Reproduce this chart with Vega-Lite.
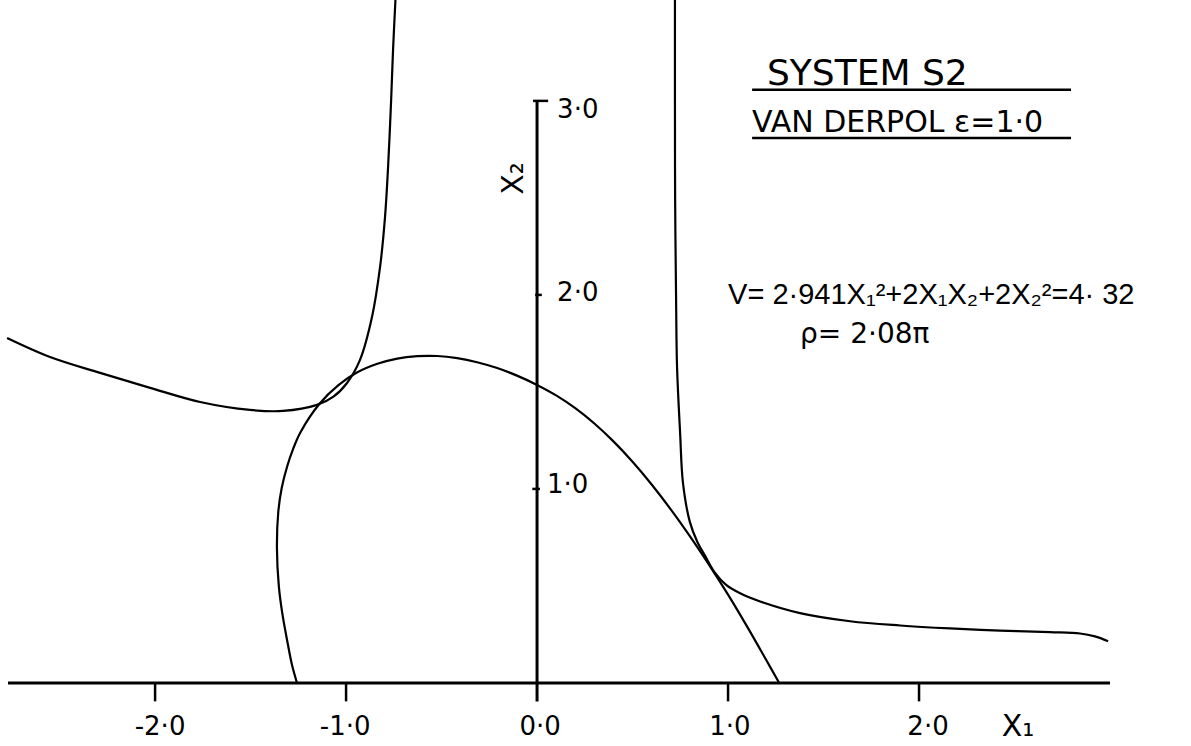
{
  "$schema": "https://vega.github.io/schema/vega-lite/v6.json",
  "width": 1191,
  "height": 746,
  "autosize": {"type": "fit", "contains": "padding"},
  "padding": 0,
  "background": "white",
  "config": {"view": {"stroke": null}, "text": {"font": "DejaVu Sans", "color": "black"}},
  "datasets": {
    "curves": [
      {"curve": "ellipse", "o": 1, "x": -1.257, "y": 0},
      {"curve": "ellipse", "o": 2, "x": -1.283, "y": 0.092},
      {"curve": "ellipse", "o": 3, "x": -1.306, "y": 0.206},
      {"curve": "ellipse", "o": 4, "x": -1.333, "y": 0.353},
      {"curve": "ellipse", "o": 5, "x": -1.352, "y": 0.498},
      {"curve": "ellipse", "o": 6, "x": -1.362, "y": 0.695},
      {"curve": "ellipse", "o": 7, "x": -1.355, "y": 0.881},
      {"curve": "ellipse", "o": 8, "x": -1.337, "y": 1.005},
      {"curve": "ellipse", "o": 9, "x": -1.307, "y": 1.121},
      {"curve": "ellipse", "o": 10, "x": -1.278, "y": 1.204},
      {"curve": "ellipse", "o": 11, "x": -1.240, "y": 1.290},
      {"curve": "ellipse", "o": 12, "x": -1.140, "y": 1.438},
      {"curve": "ellipse", "o": 13, "x": -1.040, "y": 1.535},
      {"curve": "ellipse", "o": 14, "x": -0.941, "y": 1.601},
      {"curve": "ellipse", "o": 15, "x": -0.836, "y": 1.645},
      {"curve": "ellipse", "o": 16, "x": -0.732, "y": 1.672},
      {"curve": "ellipse", "o": 17, "x": -0.627, "y": 1.684},
      {"curve": "ellipse", "o": 18, "x": -0.523, "y": 1.685},
      {"curve": "ellipse", "o": 19, "x": -0.418, "y": 1.674},
      {"curve": "ellipse", "o": 20, "x": -0.314, "y": 1.653},
      {"curve": "ellipse", "o": 21, "x": -0.209, "y": 1.623},
      {"curve": "ellipse", "o": 22, "x": -0.105, "y": 1.584},
      {"curve": "ellipse", "o": 23, "x": 0, "y": 1.536},
      {"curve": "ellipse", "o": 24, "x": 0.1, "y": 1.482},
      {"curve": "ellipse", "o": 25, "x": 0.2, "y": 1.416},
      {"curve": "ellipse", "o": 26, "x": 0.3, "y": 1.337},
      {"curve": "ellipse", "o": 27, "x": 0.4, "y": 1.245},
      {"curve": "ellipse", "o": 28, "x": 0.5, "y": 1.140},
      {"curve": "ellipse", "o": 29, "x": 0.6, "y": 1.023},
      {"curve": "ellipse", "o": 30, "x": 0.7, "y": 0.895},
      {"curve": "ellipse", "o": 31, "x": 0.8, "y": 0.757},
      {"curve": "ellipse", "o": 32, "x": 0.9, "y": 0.610},
      {"curve": "ellipse", "o": 33, "x": 1.0, "y": 0.455},
      {"curve": "ellipse", "o": 34, "x": 1.1, "y": 0.290},
      {"curve": "ellipse", "o": 35, "x": 1.2, "y": 0.118},
      {"curve": "ellipse", "o": 36, "x": 1.268, "y": 0},
      {"curve": "left", "o": 1, "x": -2.775, "y": 1.778},
      {"curve": "left", "o": 2, "x": -2.55, "y": 1.680},
      {"curve": "left", "o": 3, "x": -2.288, "y": 1.598},
      {"curve": "left", "o": 4, "x": -2.026, "y": 1.521},
      {"curve": "left", "o": 5, "x": -1.764, "y": 1.448},
      {"curve": "left", "o": 6, "x": -1.503, "y": 1.407},
      {"curve": "left", "o": 7, "x": -1.330, "y": 1.402},
      {"curve": "left", "o": 8, "x": -1.152, "y": 1.433},
      {"curve": "left", "o": 9, "x": -1.068, "y": 1.474},
      {"curve": "left", "o": 10, "x": -0.995, "y": 1.546},
      {"curve": "left", "o": 11, "x": -0.927, "y": 1.665},
      {"curve": "left", "o": 12, "x": -0.864, "y": 1.887},
      {"curve": "left", "o": 13, "x": -0.822, "y": 2.144},
      {"curve": "left", "o": 14, "x": -0.796, "y": 2.402},
      {"curve": "left", "o": 15, "x": -0.780, "y": 2.660},
      {"curve": "left", "o": 16, "x": -0.764, "y": 3.005},
      {"curve": "left", "o": 17, "x": -0.754, "y": 3.263},
      {"curve": "left", "o": 18, "x": -0.740, "y": 3.55},
      {"curve": "right", "o": 1, "x": 0.722, "y": 3.55},
      {"curve": "right", "o": 2, "x": 0.722, "y": 3.005},
      {"curve": "right", "o": 3, "x": 0.723, "y": 2.49},
      {"curve": "right", "o": 4, "x": 0.728, "y": 1.974},
      {"curve": "right", "o": 5, "x": 0.733, "y": 1.629},
      {"curve": "right", "o": 6, "x": 0.749, "y": 1.289},
      {"curve": "right", "o": 7, "x": 0.764, "y": 1.031},
      {"curve": "right", "o": 8, "x": 0.800, "y": 0.830},
      {"curve": "right", "o": 9, "x": 0.840, "y": 0.725},
      {"curve": "right", "o": 10, "x": 0.880, "y": 0.655},
      {"curve": "right", "o": 11, "x": 0.930, "y": 0.570},
      {"curve": "right", "o": 12, "x": 0.990, "y": 0.505},
      {"curve": "right", "o": 13, "x": 1.063, "y": 0.462},
      {"curve": "right", "o": 14, "x": 1.168, "y": 0.420},
      {"curve": "right", "o": 15, "x": 1.377, "y": 0.360},
      {"curve": "right", "o": 16, "x": 1.639, "y": 0.318},
      {"curve": "right", "o": 17, "x": 1.901, "y": 0.296},
      {"curve": "right", "o": 18, "x": 2.162, "y": 0.281},
      {"curve": "right", "o": 19, "x": 2.424, "y": 0.270},
      {"curve": "right", "o": 20, "x": 2.686, "y": 0.262},
      {"curve": "right", "o": 21, "x": 2.843, "y": 0.255},
      {"curve": "right", "o": 22, "x": 2.921, "y": 0.240},
      {"curve": "right", "o": 23, "x": 2.990, "y": 0.215}
    ],
    "segments": [
      {"kind": "axis", "x": -2.77, "xe": 3.0, "y": 0, "ye": 0},
      {"kind": "axis", "x": 0, "xe": 0, "y": -0.095, "ye": 3.0},
      {"kind": "tick", "x": -0.021, "xe": 0.058, "y": 3.0, "ye": 3.0},
      {"kind": "tick", "x": -0.01, "xe": 0.025, "y": 2.0, "ye": 2.0},
      {"kind": "tick", "x": -0.025, "xe": 0.015, "y": 1.0, "ye": 1.0},
      {"kind": "tick", "x": -2.0, "xe": -2.0, "y": 0, "ye": -0.095},
      {"kind": "tick", "x": -1.0, "xe": -1.0, "y": 0, "ye": -0.095},
      {"kind": "tick", "x": 1.0, "xe": 1.0, "y": 0, "ye": -0.095},
      {"kind": "tick", "x": 2.0, "xe": 2.0, "y": 0, "ye": -0.095},
      {"kind": "underline", "x": 1.126, "xe": 2.796, "y": 3.057, "ye": 3.057},
      {"kind": "underline", "x": 1.126, "xe": 2.796, "y": 2.809, "ye": 2.809}
    ],
    "xlabels": [
      {"label": "-2·0", "x": -1.974, "y": -0.227},
      {"label": "-1·0", "x": -1.005, "y": -0.227},
      {"label": "0·0", "x": 0.016, "y": -0.227},
      {"label": "1·0", "x": 1.01, "y": -0.227},
      {"label": "2·0", "x": 2.047, "y": -0.227}
    ],
    "ylabels": [
      {"label": "3·0", "x": 0.105, "y": 2.954},
      {"label": "2·0", "x": 0.105, "y": 2.01},
      {"label": "1·0", "x": 0.052, "y": 1.021}
    ],
    "notes": [
      {"kind": "title", "label": "SYSTEM S2", "x": 1.204, "y": 3.082},
      {"kind": "subtitle", "label": "VAN DERPOL  ε=1·0", "x": 1.126, "y": 2.84},
      {"kind": "eq", "label": "V= 2·941X₁²+2X₁X₂+2X₂²=4· 32", "x": 1.0, "y": 2.0},
      {"kind": "rho", "label": "ρ= 2·08π", "x": 1.377, "y": 1.794}
    ],
    "axtitles": [
      {"label": "X₁", "x": 2.518, "y": -0.227, "rot": 0},
      {"label": "X₂", "x": -0.12, "y": 2.6, "rot": -90}
    ]
  },
  "layer": [
    {
      "data": {"name": "curves"},
      "mark": {"type": "line", "color": "black", "strokeWidth": 2.2, "clip": true, "interpolate": "catmull-rom"},
      "encoding": {
        "x": {"field": "x", "type": "quantitative", "scale": {"domain": [-2.812, 3.424], "nice": false, "zero": false}, "axis": null},
        "y": {"field": "y", "type": "quantitative", "scale": {"domain": [-0.325, 3.52], "nice": false, "zero": false}, "axis": null},
        "detail": {"field": "curve"},
        "order": {"field": "o"}
      }
    },
    {
      "data": {"name": "segments"},
      "transform": [{"filter": "datum.kind == 'axis'"}],
      "mark": {"type": "rule", "color": "black", "strokeWidth": 3},
      "encoding": {
        "x": {"field": "x", "type": "quantitative"},
        "x2": {"field": "xe"},
        "y": {"field": "y", "type": "quantitative"},
        "y2": {"field": "ye"}
      }
    },
    {
      "data": {"name": "segments"},
      "transform": [{"filter": "datum.kind != 'axis'"}],
      "mark": {"type": "rule", "color": "black", "strokeWidth": 2.5},
      "encoding": {
        "x": {"field": "x", "type": "quantitative"},
        "x2": {"field": "xe"},
        "y": {"field": "y", "type": "quantitative"},
        "y2": {"field": "ye"}
      }
    },
    {
      "data": {"name": "xlabels"},
      "mark": {"type": "text", "fontSize": 26, "align": "center", "baseline": "middle"},
      "encoding": {
        "x": {"field": "x", "type": "quantitative"},
        "y": {"field": "y", "type": "quantitative"},
        "text": {"field": "label"}
      }
    },
    {
      "data": {"name": "ylabels"},
      "mark": {"type": "text", "fontSize": 26, "align": "left", "baseline": "middle"},
      "encoding": {
        "x": {"field": "x", "type": "quantitative"},
        "y": {"field": "y", "type": "quantitative"},
        "text": {"field": "label"}
      }
    },
    {
      "data": {"name": "notes"},
      "transform": [{"filter": "datum.kind == 'title'"}],
      "mark": {"type": "text", "fontSize": 36, "align": "left", "baseline": "alphabetic"},
      "encoding": {
        "x": {"field": "x", "type": "quantitative"},
        "y": {"field": "y", "type": "quantitative"},
        "text": {"field": "label"}
      }
    },
    {
      "data": {"name": "notes"},
      "transform": [{"filter": "datum.kind == 'subtitle'"}],
      "mark": {"type": "text", "fontSize": 30, "align": "left", "baseline": "alphabetic"},
      "encoding": {
        "x": {"field": "x", "type": "quantitative"},
        "y": {"field": "y", "type": "quantitative"},
        "text": {"field": "label"}
      }
    },
    {
      "data": {"name": "notes"},
      "transform": [{"filter": "datum.kind == 'eq'"}],
      "mark": {"type": "text", "font": "Liberation Sans", "fontSize": 29, "align": "left", "baseline": "middle"},
      "encoding": {
        "x": {"field": "x", "type": "quantitative"},
        "y": {"field": "y", "type": "quantitative"},
        "text": {"field": "label"}
      }
    },
    {
      "data": {"name": "notes"},
      "transform": [{"filter": "datum.kind == 'rho'"}],
      "mark": {"type": "text", "fontSize": 28, "align": "left", "baseline": "middle"},
      "encoding": {
        "x": {"field": "x", "type": "quantitative"},
        "y": {"field": "y", "type": "quantitative"},
        "text": {"field": "label"}
      }
    },
    {
      "data": {"name": "axtitles"},
      "mark": {"type": "text", "fontSize": 30, "align": "center", "baseline": "middle"},
      "encoding": {
        "x": {"field": "x", "type": "quantitative"},
        "y": {"field": "y", "type": "quantitative"},
        "text": {"field": "label"},
        "angle": {"field": "rot", "type": "quantitative", "scale": null}
      }
    }
  ]
}
